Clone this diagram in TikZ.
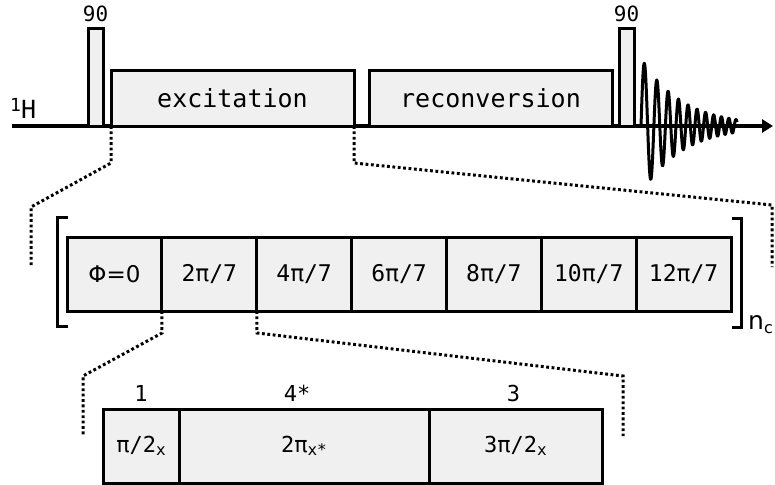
\documentclass[tikz,border=0pt]{standalone}
\usepackage{fontspec}
\setmainfont{DejaVu Sans Mono}
\newfontfamily\sansf{DejaVu Sans}
\usetikzlibrary{arrows.meta}
\definecolor{boxfill}{HTML}{F0F0F0}
\newcommand\mysub[1]{\raisebox{-0.3ex}{\fontsize{16}{16}\selectfont #1}}
\begin{document}
\begin{tikzpicture}[x=1pt,y=-1pt,
  pbox/.style={draw, line width=3pt, fill=boxfill, inner sep=0pt, outer sep=0pt},
  dots/.style={line width=3pt, dash pattern=on 2.8pt off 2.6pt},
  bigtxt/.style={font=\fontsize{25}{25}\selectfont},
  midtxt/.style={font=\fontsize{23}{23}\selectfont},
  smalltxt/.style={font=\fontsize{22}{22}\selectfont},
  numtxt/.style={font=\fontsize{21}{21}\selectfont},
  lbl/.style={inner sep=0pt}]
\useasboundingbox (0,0) rectangle (775,484);

% main 1H line
\coordinate (hstart) at (12,126);
\coordinate (hend) at (773,126);
\draw[line width=4pt, -{Triangle[length=11pt,width=13pt]}] (hstart) -- (hend);
\node[lbl, anchor=base west, font=\fontsize{25}{25}\selectfont] (hlabel) at (10,118) {\raisebox{0.45ex}{\fontsize{18}{18}\selectfont 1}H};

% pulses and blocks
\node[pbox, minimum width=15pt, minimum height=97pt, anchor=south west] (p1) at (88,126) {};
\node[pbox, minimum width=243pt, minimum height=55pt, anchor=south west, bigtxt] (exc) at (111,126) {excitation};
\node[pbox, minimum width=243pt, minimum height=55pt, anchor=south west, bigtxt] (rec) at (369,126) {reconversion};
\node[pbox, minimum width=15pt, minimum height=97pt, anchor=south west] (p2) at (619,126) {};
\node[lbl, numtxt, above=7pt] (n90a) at (p1.north) {90};
\node[lbl, numtxt, above=7pt] (n90b) at (p2.north) {90};

% FID
\draw[line width=3pt, line join=round]
  plot[domain=0:1, samples=500, variable=\t]
  ({641+96*\t}, {126-68*exp(-\t/0.42)*sin(360*(7.0*\t+3.4*\t*\t))});

% middle row
\foreach \i/\txt in {0/{\sansf Φ=0},1/{2π/7},2/{4π/7},3/{6π/7},4/{8π/7},5/{10π/7},6/{12π/7}}
  \node[pbox, midtxt, minimum width=94.86pt, minimum height=74pt, anchor=north west] (m\i) at ({67+94.86*\i},237) {\txt};

% brackets
\coordinate (lb1) at (68,217);
\coordinate (lb2) at (57,217);
\coordinate (lb3) at (57,326);
\coordinate (lb4) at (68,326);
\draw[line width=3pt] (lb1) -- (lb2) -- (lb3) -- (lb4);
\coordinate (rb1) at (732,218);
\coordinate (rb2) at (741,218);
\coordinate (rb3) at (741,327);
\coordinate (rb4) at (732,327);
\draw[line width=3pt] (rb1) -- (rb2) -- (rb3) -- (rb4);
\node[lbl, anchor=base west, font=\sansf\fontsize{25}{25}\selectfont] (nc) at (748,329) {n\mysub{c}};

% bottom row
\node[pbox, smalltxt, minimum width=76pt, minimum height=74pt, anchor=north west] (b1) at (103,409) {π/2\mysub{x}};
\node[pbox, smalltxt, minimum width=250pt, minimum height=74pt, anchor=north west] (b2) at (179,409) {2π\mysub{x*}};
\node[pbox, smalltxt, minimum width=173pt, minimum height=74pt, anchor=north west] (b3) at (429,409) {3π/2\mysub{x}};
\node[lbl, smalltxt, above=7pt] (t1) at (b1.north) {1};
\node[lbl, smalltxt, above=7pt] (t2) at ([xshift=-7pt]b2.north) {4*};
\node[lbl, smalltxt, above=7pt] (t3) at ([xshift=-2pt]b3.north) {3};

% dotted expansion lines
\coordinate (d1a) at (111,163);
\coordinate (d1b) at (31,207);
\coordinate (d1c) at (31,266);
\draw[dots] (exc.south west) -- (d1a) -- (d1b) -- (d1c);
\coordinate (d2a) at (354,163);
\coordinate (d2b) at (772,205);
\coordinate (d2c) at (772,267);
\draw[dots] (exc.south east) -- (d2a) -- (d2b) -- (d2c);
\coordinate (d3a) at (162,333);
\coordinate (d3b) at (83,376);
\coordinate (d3c) at (83,436);
\draw[dots] (m1.south west) -- (d3a) -- (d3b) -- (d3c);
\coordinate (d4a) at (257,333);
\coordinate (d4b) at (623,376);
\coordinate (d4c) at (623,436);
\draw[dots] (m2.south west) -- (d4a) -- (d4b) -- (d4c);
\end{tikzpicture}
\end{document}
